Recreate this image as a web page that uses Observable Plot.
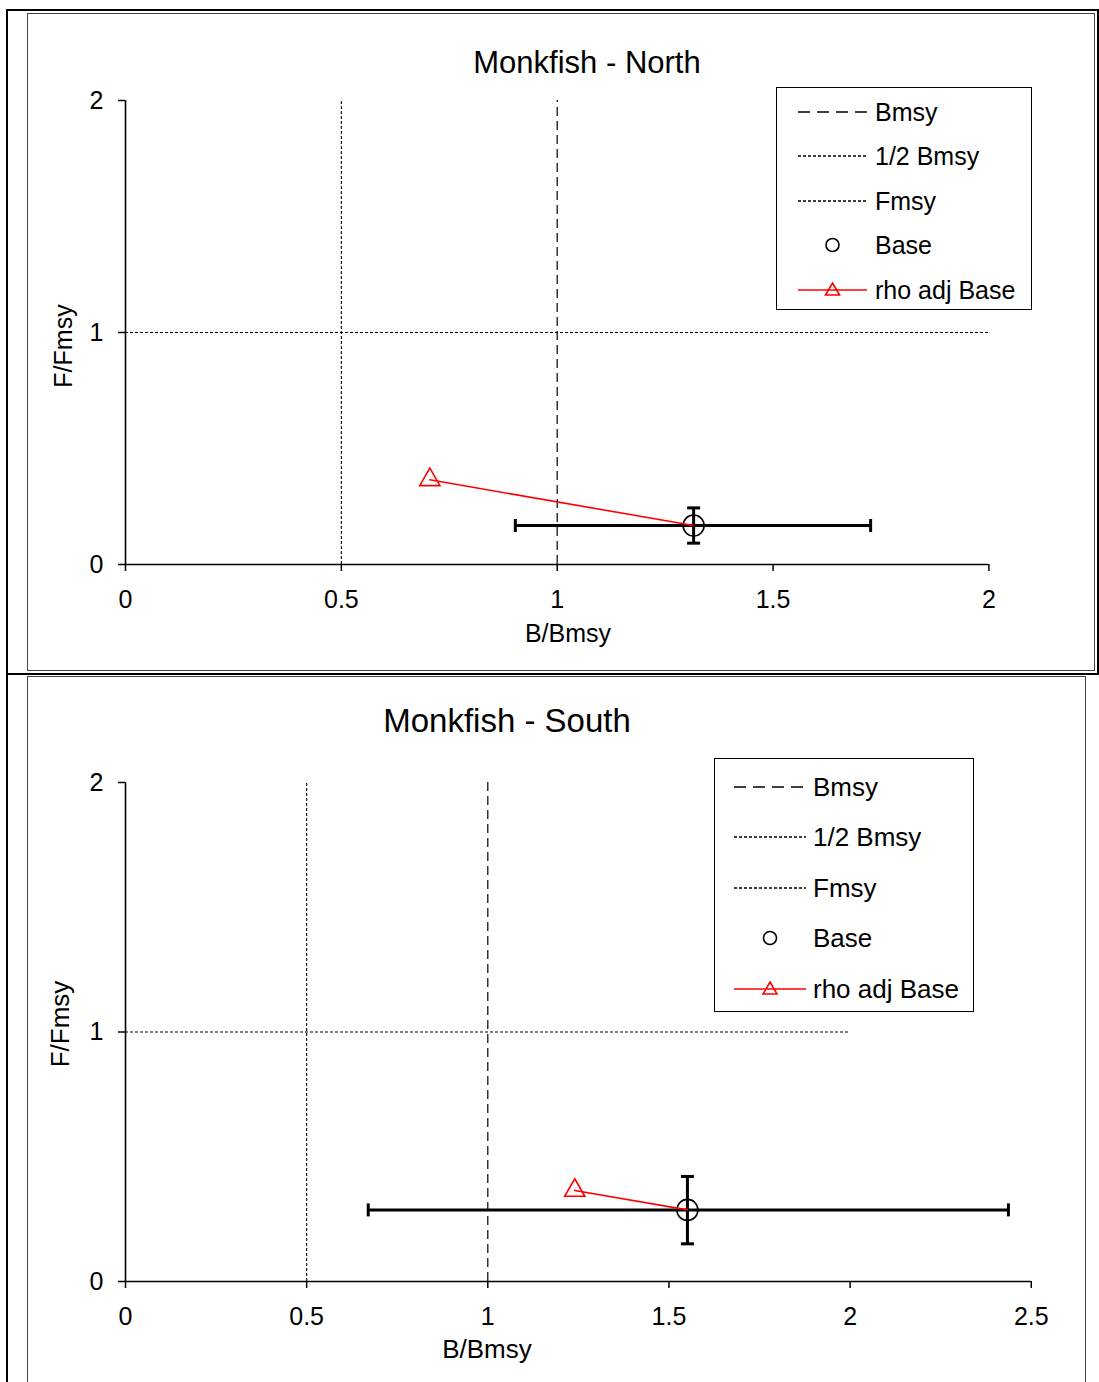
<!DOCTYPE html>
<html><head><meta charset="utf-8">
<script src="https://cdn.jsdelivr.net/npm/d3@7"></script>
<script src="https://cdn.jsdelivr.net/npm/@observablehq/plot@0.6"></script>
<style>
body{margin:0;background:#fff;font-family:"Liberation Sans",Arial,sans-serif;}
#page{position:relative;width:1099px;height:1382px;overflow:hidden;background:#fff;}
.abs{position:absolute;}
.ctr{position:absolute;transform:translate(-50%,-50%);white-space:nowrap;line-height:1;color:#000;}
.box{position:absolute;box-sizing:border-box;border:1px solid #444;}
.legend{position:absolute;box-sizing:border-box;border:1.5px solid #000;background:#fff;}
.lrow{position:absolute;left:0;display:flex;align-items:center;white-space:nowrap;line-height:1;}
</style></head>
<body><div id="page"></div>
<script>
// ---- data ----
const panelTitles = ["Monkfish - North", "Monkfish - South"];
const xAxisLabel = "B/Bmsy";
const yAxisLabel = "F/Fmsy";
const legendLabels = ["Bmsy", "1/2 Bmsy", "Fmsy", "Base", "rho adj Base"];
const baseB = [1.316, 1.551];
const baseF = [0.168, 0.287];
const baseBLow = [0.903, 0.670];
const baseBHigh = [1.726, 2.437];
const baseFLow = [0.092, 0.151];
const baseFHigh = [0.244, 0.421];
const rhoB = [0.705, 1.240];
const rhoF = [0.365, 0.365];
const bmsyRef = [1, 1];
const halfBmsyRef = [0.5, 0.5];
const fmsyRef = [1, 1];
const fmsyLineEnd = [2, 2];
const xTicksNorth = [0, 0.5, 1, 1.5, 2];
const xTicksSouth = [0, 0.5, 1, 1.5, 2, 2.5];
const yTicks = [0, 1, 2];

// ---- layout ----
const layouts = [
  {box:[27,13,1068,658], svg:[28,14,1066,656], m:[86,105.6,106,97], xTicks:xTicksNorth,
   title:[587,62,31], xlab:[568,633], ylab:[63,346], lab:25, tick:25,
   legend:{left:776, top:87, w:256, h:223, rows:[111,155,200,244,289], sx:797, sw:69, tx:874, fs:25}},
  {box:[27,676,1059,720], svg:[28,677,1057,705], m:[105,54.25,101,97], xTicks:xTicksSouth,
   title:[507,720,33], xlab:[487,1349], ylab:[60,1024], lab:26, tick:25,
   legend:{left:714, top:758, w:260, h:254, rows:[786,836,887,937,988], sx:733, sw:72, tx:812, fs:26}}
];

const page = document.getElementById("page");
function el(tag, cls, css, text){const e=document.createElement(tag); if(cls) e.className=cls; Object.assign(e.style, css||{}); if(text!=null) e.textContent=text; page.appendChild(e); return e;}

// outer table lines
el("div","abs",{left:"6px",top:"9px",width:"1093px",height:"2px",background:"#000"});
el("div","abs",{left:"6px",top:"9px",width:"2px",height:"1373px",background:"#000"});
el("div","abs",{left:"6px",top:"673px",width:"1093px",height:"2px",background:"#000"});
el("div","abs",{left:"1097px",top:"9px",width:"2px",height:"665px",background:"#000"});

const vCap = {draw(ctx, size){const h=Math.sqrt(size/Math.PI); ctx.moveTo(0,-h); ctx.lineTo(0,h);}};
const hCap = {draw(ctx, size){const h=Math.sqrt(size/Math.PI); ctx.moveTo(-h,0); ctx.lineTo(h,0);}};

layouts.forEach((L, i) => {
  el("div","box",{left:L.box[0]+"px",top:L.box[1]+"px",width:L.box[2]+"px",height:L.box[3]+"px"});
  const xMax = L.xTicks[L.xTicks.length-1];
  const base = [{b: baseB[i], f: baseF[i]}];
  const rhoPt = [{b: rhoB[i], f: rhoF[i]}];
  const rhoPath = [{b: rhoB[i], f: rhoF[i]}, {b: baseB[i], f: baseF[i]}];
  const errB = [{f: baseF[i], lo: baseBLow[i], hi: baseBHigh[i]}];
  const errF = [{b: baseB[i], lo: baseFLow[i], hi: baseFHigh[i]}];
  const capsB = [{b: baseBLow[i], f: baseF[i]}, {b: baseBHigh[i], f: baseF[i]}];
  const capsF = [{b: baseB[i], f: baseFLow[i]}, {b: baseB[i], f: baseFHigh[i]}];
  const svg = Plot.plot({
    width: L.svg[2], height: L.svg[3],
    marginTop: L.m[0], marginRight: L.m[1], marginBottom: L.m[2], marginLeft: L.m[3],
    x: {domain: [0, xMax]},
    y: {domain: [0, 2]},
    style: {fontFamily: "'Liberation Sans', Arial, sans-serif", fontSize: L.tick + "px", background: "transparent", overflow: "visible", color: "#000"},
    marks: [
      Plot.ruleX([halfBmsyRef[i]], {x: d => d, y1: 0, y2: 2, stroke: "#000", strokeWidth: 1.1, strokeDasharray: "3,2"}),
      Plot.ruleX([bmsyRef[i]], {x: d => d, y1: 0, y2: 2, stroke: "#000", strokeWidth: 1.2, strokeDasharray: "9,5"}),
      Plot.ruleY([fmsyRef[i]], {y: d => d, x1: 0, x2: fmsyLineEnd[i], stroke: "#000", strokeWidth: 1.1, strokeDasharray: "3,2"}),
      Plot.axisX({ticks: L.xTicks, tickSize: 7, tickPadding: 19, label: null, tickFormat: d => String(d), fontSize: L.tick, strokeWidth: 1.5}),
      Plot.axisY({ticks: yTicks, tickSize: 7, tickPadding: 15, label: null, tickFormat: d => String(d), fontSize: L.tick, strokeWidth: 1.5}),
      Plot.ruleX([0], {y1: 0, y2: 2, stroke: "#000", strokeWidth: 1.6}),
      Plot.ruleY([0], {x1: 0, x2: xMax, stroke: "#000", strokeWidth: 1.6}),
      Plot.ruleY(errB, {y: "f", x1: "lo", x2: "hi", stroke: "#000", strokeWidth: 3}),
      Plot.ruleX(errF, {x: "b", y1: "lo", y2: "hi", stroke: "#000", strokeWidth: 3}),
      Plot.dot(capsB, {x: "b", y: "f", symbol: vCap, r: 6.5, fill: "none", stroke: "#000", strokeWidth: 3}),
      Plot.dot(capsF, {x: "b", y: "f", symbol: hCap, r: 6.5, fill: "none", stroke: "#000", strokeWidth: 3}),
      Plot.dot(base, {x: "b", y: "f", r: 10.5, fill: "none", stroke: "#000", strokeWidth: 1.6}),
      Plot.line(rhoPath, {x: "b", y: "f", stroke: "#ff0000", strokeWidth: 1.6}),
      Plot.dot(rhoPt, {x: "b", y: "f", symbol: "triangle", r: 7.5, fill: "none", stroke: "#ff0000", strokeWidth: 1.6})
    ]
  });
  Object.assign(svg.style, {position: "absolute", left: L.svg[0] + "px", top: L.svg[1] + "px"});
  page.appendChild(svg);

  el("div","ctr",{left:L.title[0]+"px",top:L.title[1]+"px",fontSize:L.title[2]+"px"}, panelTitles[i]);
  el("div","ctr",{left:L.xlab[0]+"px",top:L.xlab[1]+"px",fontSize:L.lab+"px"}, xAxisLabel);
  el("div","ctr",{left:L.ylab[0]+"px",top:L.ylab[1]+"px",fontSize:L.lab+"px",transform:"translate(-50%,-50%) rotate(-90deg)"}, yAxisLabel);

  const G = L.legend;
  const lg = el("div","legend",{left:G.left+"px",top:G.top+"px",width:G.w+"px",height:G.h+"px"});
  legendLabels.forEach((lab, k) => {
    const row = document.createElement("div");
    row.className = "lrow";
    row.style.top = (G.rows[k] - G.top - 15) + "px";
    row.style.height = "30px";
    row.style.left = (G.sx - G.left) + "px";
    row.style.fontSize = G.fs + "px";
    const w = G.sw, h = 30, mid = w/2;
    let s = "";
    if (k === 0) s = `<line x1="0" y1="15" x2="${w}" y2="15" stroke="#000" stroke-width="1.3" stroke-dasharray="12,7"/>`;
    if (k === 1 || k === 2) s = `<line x1="0" y1="15" x2="${w}" y2="15" stroke="#000" stroke-width="1.3" stroke-dasharray="3,2"/>`;
    if (k === 3) s = `<circle cx="${mid}" cy="15" r="6.5" fill="none" stroke="#000" stroke-width="1.6"/>`;
    if (k === 4) s = `<line x1="0" y1="15" x2="${w}" y2="15" stroke="#f00" stroke-width="1.6"/><path d="M${mid},8 L${mid+7},20 L${mid-7},20 Z" fill="none" stroke="#f00" stroke-width="1.6"/>`;
    row.innerHTML = `<svg width="${w}" height="${h}" style="display:block">${s}</svg><span style="margin-left:${G.tx - G.sx - w}px">${lab}</span>`;
    lg.appendChild(row);
  });
});
</script></body></html>
